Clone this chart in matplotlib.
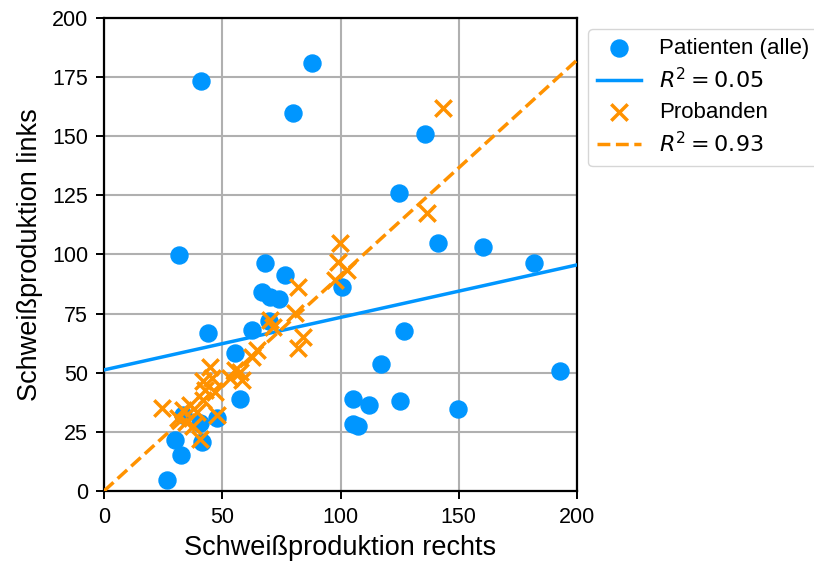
import numpy as np
import matplotlib.pyplot as plt

plt.rcParams["font.family"] = ["Liberation Sans", "DejaVu Sans"]

# Patienten (alle): rechts / links
pat_rechts = [41.0, 88.0, 79.9, 135.7, 124.7, 31.7, 141.2, 160.3, 181.8, 100.6,
              68.1, 76.5, 66.8, 70.2, 74.0, 69.8, 44.0, 62.6, 55.4, 126.8,
              117.1, 192.8, 105.3, 112.1, 125.2, 149.7, 105.3, 107.4, 57.5, 33.4,
              40.6, 47.8, 30.0, 41.4, 32.6, 26.6]
pat_links = [173.4, 181.0, 159.8, 151.0, 126.0, 99.8, 104.9, 103.2, 96.4, 86.3,
             96.4, 91.3, 84.1, 82.0, 81.2, 71.9, 66.8, 68.1, 58.4, 67.7,
             53.7, 50.7, 38.9, 36.4, 38.1, 34.7, 28.3, 27.5, 38.9, 32.1,
             28.8, 30.9, 21.6, 20.7, 15.2, 4.7]

# Probanden: rechts / links
pro_rechts = [24.5, 31.3, 33.4, 34.7, 36.4, 37.6, 39.3, 40.6, 41.9, 42.7,
              41.9, 44.8, 46.9, 47.8, 45.7, 53.3, 55.4, 58.4, 57.5, 62.6,
              64.7, 70.2, 71.5, 80.8, 82.0, 84.1, 82.0, 97.7, 99.8, 98.9,
              102.7, 136.6, 143.3]
pro_links = [35.1, 30.9, 34.2, 29.2, 36.4, 27.5, 33.4, 22.0, 38.5, 42.7,
             46.5, 52.4, 41.9, 32.1, 47.8, 47.8, 51.2, 46.9, 50.3, 56.7,
             59.6, 72.3, 69.3, 75.3, 86.3, 65.1, 60.5, 89.2, 104.9, 96.8,
             93.4, 117.5, 161.9]

# Regression lines (intercept, slope)
fit_pat = (51.2, 0.222)
fit_pro = (0.0, 0.911)
r2_labels = ["$R^2 = 0.05$", "$R^2 = 0.93$"]

blue = "#0096FF"
orange = "#FF9200"

fig = plt.figure(figsize=(8.14, 5.62), dpi=100)
ax = fig.add_axes([104 / 814, 71 / 562, 473 / 814, 473 / 562])

xs = np.array([0, 200])

ax.scatter(pat_rechts, pat_links, s=150, color=blue, label="Patienten (alle)", zorder=3)
ax.plot(xs, fit_pat[0] + fit_pat[1] * xs, color=blue, linewidth=2.5, label=r2_labels[0], zorder=3)

ax.scatter(pro_rechts, pro_links, s=140, marker="x", linewidths=2.5, color=orange,
           label="Probanden", zorder=4)
ax.plot(xs, fit_pro[0] + fit_pro[1] * xs, color=orange, linewidth=2.5, linestyle="--",
        label=r2_labels[1], zorder=4)

ax.set_xlim(0, 200)
ax.set_ylim(0, 200)
ax.set_xticks(np.arange(0, 201, 50))
ax.set_yticks(np.arange(0, 201, 25))
ax.tick_params(labelsize=15.5, width=1.4, length=6, pad=5.5)
ax.grid(True, color="#b0b0b0", linewidth=1.5)
ax.set_axisbelow(True)
for sp in ax.spines.values():
    sp.set_linewidth(1.6)

ax.set_xlabel("Schweißproduktion rechts", fontsize=19.5, labelpad=5)
ax.set_ylabel("Schweißproduktion links", fontsize=19.5, labelpad=6)

ax.legend(loc="upper left", bbox_to_anchor=(1.0, 1.0), fontsize=16, labelspacing=0.4)

plt.savefig("out.png", dpi=100)
